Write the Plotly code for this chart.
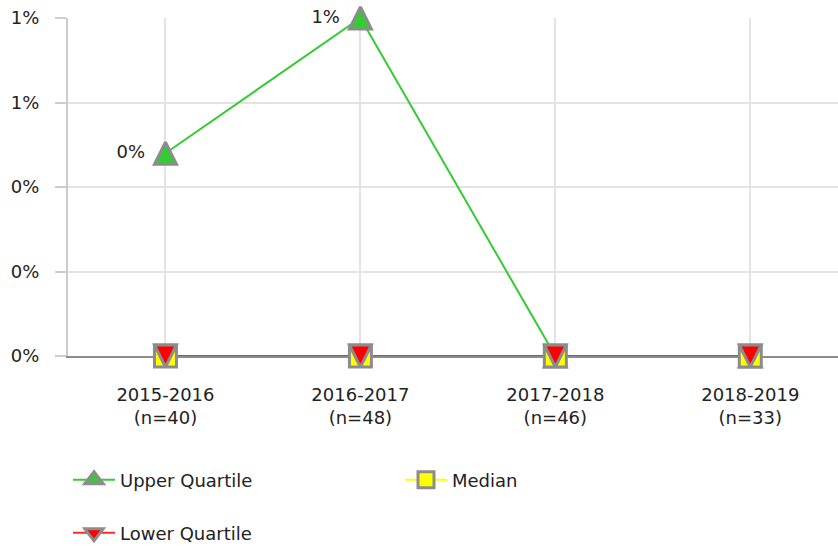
import plotly.graph_objects as go

categories = ["2015-2016<br>(n=40)", "2016-2017<br>(n=48)", "2017-2018<br>(n=46)", "2018-2019<br>(n=33)"]
upper_quartile = [0.0048, 0.008, 0.0, 0.0]
median = [0.0, 0.0, 0.0, 0.0]
lower_quartile = [0.0, 0.0, 0.0, 0.0]
y_ticks = [0, 0.002, 0.004, 0.006, 0.008]

FONT = "DejaVu Sans"
GREY = "#8c8c8c"
SIZE = 22
series = [
    ("Upper Quartile", upper_quartile, "#33cc33", "#33cc33", "up", "legend"),
    ("Median", median, "#ffff00", "#ffff00", "square", "legend"),
    ("Lower Quartile", lower_quartile, "#ff2a2a", "#ff0000", "down", "legend2"),
]

def chart_marker(kind, color):
    base = dict(size=SIZE, color=color, line=dict(color=GREY, width=3))
    if kind == "square":
        return dict(symbol="square", **base)
    if kind == "up":
        return dict(symbol="arrow-down", angle=180, standoff=SIZE / 2, **base)
    return dict(symbol="arrow-down", angle=0, standoff=SIZE / 2, **base)

def legend_marker(kind, color):
    sym = {"square": "square", "up": "triangle-up", "down": "triangle-down"}[kind]
    return dict(symbol=sym, size=16, color=color, line=dict(color=GREY, width=3))

fig = go.Figure()
# subplot 1: connecting lines (drawn beneath the axis line)
for name, vals, lc, mc, kind, lg in series:
    fig.add_trace(go.Scatter(
        x=categories, y=vals, name=name, mode="lines",
        line=dict(color=lc, width=2), xaxis="x", yaxis="y",
        showlegend=False, hoverinfo="skip",
    ))
# legend entries
for name, vals, lc, mc, kind, lg in series:
    fig.add_trace(go.Scatter(
        x=[None], y=[None], name=name, mode="lines+markers",
        line=dict(color=lc, width=2), marker=legend_marker(kind, mc),
        xaxis="x", yaxis="y", legend=lg,
    ))
# subplot 2: markers above the axis line
for name, vals, lc, mc, kind, lg in series:
    txt = ["{:.0%} ".format(v) if (kind == "up" and v > 0) else "" for v in vals]
    fig.add_trace(go.Scatter(
        x=categories, y=vals, name=name, mode="markers+text",
        marker=chart_marker(kind, mc), text=txt, textposition="middle left",
        textfont=dict(family=FONT, size=18, color="#222"),
        xaxis="x2", yaxis="y2", showlegend=False, cliponaxis=False,
    ))

xr = [-0.5, 3.45]
yr = [0, 0.008]
fig.update_layout(
    width=838, height=548,
    margin=dict(l=68, r=0, t=18, b=192, autoexpand=False),
    paper_bgcolor="white", plot_bgcolor="rgba(0,0,0,0)",
    font=dict(family=FONT, size=18, color="#222"),
    xaxis=dict(type="category", range=xr, showgrid=True, gridcolor="#e3e3e3", gridwidth=2,
               showline=True, linecolor=GREY, linewidth=2, layer="above traces",
               ticks="", ticklabelstandoff=21, tickfont=dict(size=18, family=FONT),
               zeroline=False, fixedrange=True, automargin=False),
    yaxis=dict(range=yr, tickvals=y_ticks, tickformat=".0%", showgrid=True,
               gridcolor="#e3e3e3", gridwidth=2, showline=True, linecolor="#cccccc",
               linewidth=2, ticks="outside", ticklen=11, tickcolor="#cccccc", tickwidth=2,
               ticklabelstandoff=12, zeroline=False, layer="above traces", automargin=False),
    xaxis2=dict(type="category", range=xr, visible=False, domain=[0, 1], anchor="y2"),
    yaxis2=dict(range=yr, visible=False, domain=[0, 1], anchor="x2"),
    legend=dict(orientation="h", x=0, xanchor="left", y=-0.367, yanchor="middle",
                entrywidth=275, font=dict(size=18, family=FONT), itemwidth=42,
                bgcolor="rgba(0,0,0,0)"),
    legend2=dict(orientation="h", x=0, xanchor="left", y=-0.524, yanchor="middle",
                 font=dict(size=18, family=FONT), itemwidth=42, bgcolor="rgba(0,0,0,0)"),
    showlegend=True,
)

fig.write_html("out.html", config={"displayModeBar": False},
               post_script="document.body.style.margin='0';")
